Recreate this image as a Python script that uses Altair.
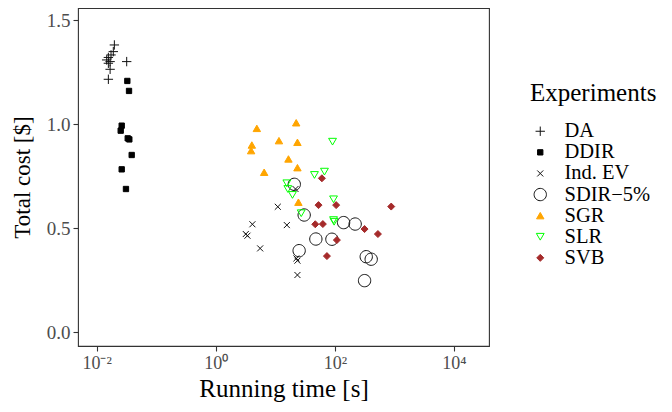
import altair as alt
import pandas as pd

# ---- data ----
names = ["DA", "DDIR", "Ind. EV", "SDIR\u22125%", "SGR", "SLR", "SVB"]

DA_x = [0.0198, 0.019, 0.0174, 0.0157, 0.0147, 0.0168, 0.0319, 0.0157, 0.0168, 0.0157]
DA_y = [1.38, 1.348, 1.332, 1.32, 1.308, 1.30, 1.30, 1.292, 1.263, 1.215]

DDIR_x = [0.0327, 0.0349, 0.0263, 0.0253, 0.0332, 0.0353, 0.0387, 0.0263, 0.031]
DDIR_y = [1.207, 1.159, 0.992, 0.968, 0.931, 0.926, 0.851, 0.782, 0.6875]

IND_x = [11.0, 4.12, 15.6, 3.19, 3.4, 5.56, 22.6, 23.5, 23.5, 21.8]
IND_y = [0.602, 0.518, 0.514, 0.471, 0.463, 0.402, 0.354, 0.343, 0.274, 0.6875]

SDIR_x = [20.8, 30.5, 47.9, 89.1, 140, 219, 25.1, 336, 407, 315]
SDIR_y = [0.71, 0.5625, 0.447, 0.446, 0.526, 0.519, 0.391, 0.362, 0.35, 0.247]

SGR_x = [4.89, 22.4, 4.03, 3.92, 11.5, 23.5, 16.6, 23.5, 6.49, 24.4]
SGR_y = [0.979, 1.006, 0.899, 0.872, 0.92, 0.912, 0.832, 0.79, 0.768, 0.624]

SLR_x = [91.3, 45.4, 66.8, 15.6, 16.2, 19.4, 94.9, 27.2, 94.9, 97.0]
SLR_y = [0.915, 0.755, 0.771, 0.715, 0.6875, 0.659, 0.638, 0.571, 0.538, 0.53]

SVB_x = [60.5, 53.1, 105, 883, 46.8, 62.8, 315, 528, 108, 73.5]
SVB_y = [0.739, 0.61, 0.61, 0.603, 0.518, 0.519, 0.495, 0.471, 0.442, 0.365]

x_ticks = [0.01, 1, 100, 10000]
y_ticks = [0.0, 0.5, 1.0, 1.5]

series = [
    (names[0], DA_x, DA_y),
    (names[1], DDIR_x, DDIR_y),
    (names[2], IND_x, IND_y),
    (names[3], SDIR_x, SDIR_y),
    (names[4], SGR_x, SGR_y),
    (names[5], SLR_x, SLR_y),
    (names[6], SVB_x, SVB_y),
]
rows = []
for name, xs, ys in series:
    for xv, yv in zip(xs, ys):
        rows.append({"Experiments": name, "time": xv, "cost": yv})
df = pd.DataFrame(rows)

# ---- symbol shapes (custom paths, all drawn at one common size) ----
PLUS = "M-0.67,0L0.67,0M0,-0.67L0,0.67"
SQUARE = "M-0.38,-0.38L0.38,-0.38L0.38,0.38L-0.38,0.38Z"
XSHAPE = "M-0.43,-0.43L0.43,0.43M-0.43,0.43L0.43,-0.43"
CIRCLE = ("M0.88,0C0.88,0.486,0.486,0.88,0,0.88C-0.486,0.88,-0.88,0.486,-0.88,0"
          "C-0.88,-0.486,-0.486,-0.88,0,-0.88C0.486,-0.88,0.88,-0.486,0.88,0Z")
TRI_UP = "M0,-0.46L-0.53,0.46L0.53,0.46Z"
TRI_DOWN = "M0,0.48L-0.56,-0.48L0.56,-0.48Z"
DIAMOND = "M-0.5,0L0,-0.5L0.5,0L0,0.5Z"
shapes = [PLUS, SQUARE, XSHAPE, CIRCLE, TRI_UP, TRI_DOWN, DIAMOND]
strokes = ["#111111", "#000000", "#111111", "#111111", "#FFA500", "#00FF00", "#A52A2A"]
fills = ["transparent", "#000000", "transparent", "transparent", "#FFA500", "transparent", "#A52A2A"]
SYM = 196

FONT = "Liberation Serif"

label_expr = ("datum.value < 0.1 ? '10\u207b\u00b2' : datum.value < 10 ? '10\u2070' : "
              "datum.value < 1000 ? '10\u00b2' : '10\u2074'")

legend = alt.Legend(title="Experiments", orient="none", legendX=452, legendY=73)

chart = alt.Chart(df).mark_point(filled=False, opacity=1, strokeWidth=1, size=SYM).encode(
    x=alt.X("time:Q",
            scale=alt.Scale(type="log", domain=[10 ** -2.314, 10 ** 4.588], nice=False, zero=False),
            axis=alt.Axis(values=x_ticks, labelExpr=label_expr, title="Running time [s]")),
    y=alt.Y("cost:Q",
            scale=alt.Scale(domain=[-0.0673, 1.5577], nice=False, zero=False),
            axis=alt.Axis(values=y_ticks, format=".1f", title="Total cost [$]")),
    shape=alt.Shape("Experiments:N", scale=alt.Scale(domain=names, range=shapes), legend=legend),
    stroke=alt.Stroke("Experiments:N", scale=alt.Scale(domain=names, range=strokes), legend=legend),
    fill=alt.Fill("Experiments:N", scale=alt.Scale(domain=names, range=fills), legend=legend),
).properties(
    width=411, height=338,
    autosize=alt.AutoSizeParams(type="none"),
    padding={"left": 70, "top": 0, "right": 175, "bottom": 58},
).configure_view(
    stroke="#333333", strokeWidth=1.1
).configure_axis(
    labelFont=FONT, titleFont=FONT, labelColor="#4D4D4D", titleColor="#000000",
    titleFontWeight="normal", tickColor="#333333", tickSize=5,
    tickWidth=1.1, domain=False, grid=False, labelPadding=3,
).configure_axisX(
    labelFontSize=18, titleFontSize=25, titlePadding=4,
).configure_axisY(
    labelFontSize=19, titleFontSize=23, titlePadding=12,
).configure_legend(
    titleFont=FONT, titleFontSize=25, titleFontWeight="normal", titleColor="#000000",
    labelFont=FONT, labelFontSize=20.5, labelColor="#000000",
    rowPadding=0.1, titlePadding=15, labelOffset=14, symbolStrokeWidth=1, padding=0,
    symbolSize=SYM,
)

chart.save("out.html", embed_options={"renderer": "svg", "actions": False})
